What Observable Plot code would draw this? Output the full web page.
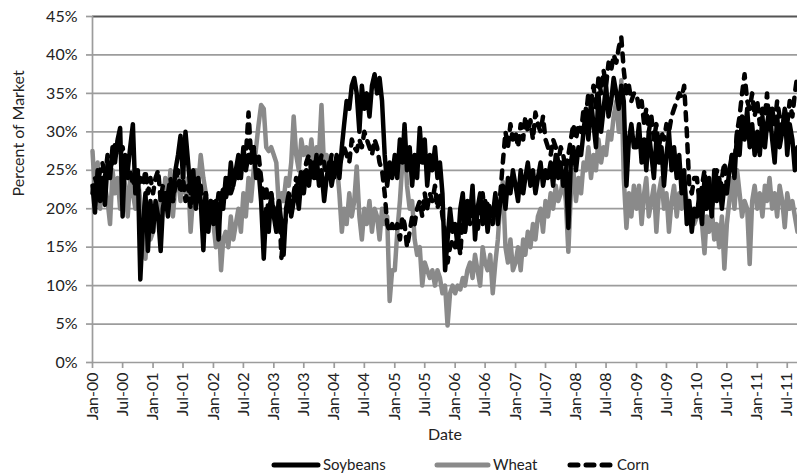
<!DOCTYPE html>
<html><head><meta charset="utf-8">
<script src="https://cdn.jsdelivr.net/npm/d3@7"></script>
<script src="https://cdn.jsdelivr.net/npm/@observablehq/plot@0.6"></script>
<style>
body{margin:0;background:#fff;}
#chart svg{display:block;}
</style></head>
<body><div id="chart"></div>
<script>
// Semi-monthly readings (1st and 16th of each month), Jan 2000 .. Sep 2011, percent of market
const soybeans = [
  23,19.5,25,21,24,20.5,26,24,28,26,29,30.5,19,27,25,28,31,22,25,10.8,18,22,14.5,21, // 2000
  17,21,19,14.5,20,22,19,23,21,25,27,29.5,24,30,26,22,25,20,24,21,14.6,22,17,21,      // 2001
  18,21,16,22,20,24,22,26,23,25,27,24,28,25,27,26,28,24,25,21,13.5,20,17,22,          // 2002
  19,17,21,18,14,20,22,19,21,23,20,24,22,25,23,26,24,27,23,25,21,24,26,23,            // 2003
  25,27,24,28,31,34,33,36,37,35,30,36,33,35,32,36,37.5,35,37,34,27,23,26,24,          // 2004
  27,24,29,26,31,25,28,23,27,24,30.5,26,29,23,27,25,28,24,26,22,12,16,20,17,          // 2005
  18,15,20,22,17,21,19,23,16,20,22,18,21,17,20,19,22,18,21,23,20,24,22,25,            // 2006
  23,21,25,22,24,26,23,25,22,24,26,23,25,24,26,23,27,24,26,23,25,17.5,26,28,          // 2007
  25,28,27,30,33,29,34,31,28,35,30,33,36,32,34,37,35,33,36,34,23,29,31,28,            // 2008
  28,31,26,29,25,30,27,24,29,26,28,23,27,30,25,28,24,27,22,25,18,21,17,20,            // 2009
  19,22,18,24,20,23,19,25,21,24,20,23,22,25,27,24,30,27,32,29,33,28,31,27,            // 2010
  30,27,32,28,31,33,29,26,32,28,30,33,27,31,29,25,28                                  // 2011
];
const wheat = [
  27.5,22,26,20,24,23,21,18,25,22,24,20,25,23,19,24,22,20,24,21,17,13.5,19,16,        // 2000
  17,20,19,22,20,24,21,25,19,23,24,21,25,22,24,17,22,25,23,27,24,22,19,21,            // 2001
  18,15,19,12,16,17,15,19,16,18,20,17,22,19,24,21,25,28,31,33.5,33,28,27.5,28,        // 2002
  27,26,20,22,21,24,23,26,32,27,25,29,27,28,26,29,25,28,27,33.5,25,27,24,26,          // 2003
  25,26,22,17,20,18,22,19,21,25.5,19,16,20,18,21,17,20,19,16,20,18,19,8,12,           // 2004
  12,17,21,26,29,23,20,21,16,14,15,10,13,12,11,12,10,12,11,9,10,4.8,9,10,             // 2005
  9,10,9.5,11,10,12,13,11,14,12,10,15,13,12,14,9,13,16,21,23.5,15,13,16,12,           // 2006
  13,15,12,16,14,17,15,18,16,19,20,17,21,19,22,20,23,21,22,24,21,14.4,22,25,          // 2007
  21,24,22,26,25,28,24,27,25,29,26,28,27,30,29,32,34,30,36.7,24,17.5,22,19,23,        // 2008
  20,23,18,22,24,19,21,23,17,22,24,20,22,17,21,23,19,22,20,23,21,19,20,18,            // 2009
  19,21,18,14.2,19,17,20,16,18,15,19,12.2,18,21,24,20,25,22,19,21,20,12.8,21,23,      // 2010
  20,22,19,23,21,24,20,22,19,23,21,17.6,22,20,21,19,17                                // 2011
];
const corn = [
  22,24,23,25,26,24,27,25.5,26,28.5,29,27,28,26,24,25,23,24,22,24,23,25,22,24,        // 2000
  22,24,25,21,23,20,22,24,21,23,25,22,24,21,23,20,22,24,21,23,19,22,18,21,            // 2001
  21,19,22,20,23,21,24,22,23,25,24,26,25,27,32.5,27,28,26,27,24,21,23,19,22,          // 2002
  20,18,21,13.6,17,19,21,20,22,24,23,25,24,26,27,25,26,24,25,27,26,24,25,27,          // 2003
  24,26,25,27,28,27,26,29,28,27.5,29,28,30,29,28,27,29,28,26,25,22,18,17,18,          // 2004
  17,18,16,19,18,15,17,19,18,20,21,19,22,20,22,21,23,20,22,19,17,13,15,16,            // 2005
  15,17,14,19,17,20,18,21,19,17,20,22,19,21,20,18,21,20,22,26,30,28,31,29,            // 2006
  30,28,31,29,32,30,31.5,29,32.5,31,30,32,29,28,27,29,28,26,28,27,25,27,29,31,        // 2007
  29,31,30,33,32,35,34,36,33,37,35,38,36,39,38,40,39,41,42.3,38,35,36,34,35,          // 2008
  35,33,34,31,33,30,32,29,31,28,30,29,31,30,32,33,34,35,34.5,36,30,23,22,24,          // 2009
  24,21,23,25,22,24,20,23,25,22,24,26,23,25,27,26,30,32,35,37.5,34,33,35,32,          // 2010
  34,31,33,32,35,30,33,31,34,32,30,33,31,34,32,35,37.5                                // 2011
];
const seriesNames = ["Soybeans", "Wheat", "Corn"];
const yTicks = [0, 5, 10, 15, 20, 25, 30, 35, 40, 45];
const yLabel = "Percent of Market";
const xLabel = "Date";

const FONT = "Lato, 'Open Sans', sans-serif";
const dateAt = i => new Date(Date.UTC(2000 + Math.floor(i / 24), Math.floor((i % 24) / 2), (i % 2) ? 16 : 1));
const toRows = (arr, name) => arr.map((v, i) => ({date: dateAt(i), value: v, series: name}));
const rows = {
  Soybeans: toRows(soybeans, "Soybeans"),
  Wheat: toRows(wheat, "Wheat"),
  Corn: toRows(corn, "Corn")
};
const x0 = new Date(Date.UTC(2000, 0, 1));
const x1 = new Date(Date.UTC(2011, 8, 1));
const xTicks = d3.utcMonth.every(6).range(x0, new Date(Date.UTC(2011, 7, 1)));

const chart = Plot.plot({
  width: 797,
  height: 448,
  marginLeft: 92,
  marginRight: 0,
  marginTop: 16,
  marginBottom: 86,
  style: {fontFamily: FONT, fontSize: "16px", color: "#222", background: "white", overflow: "visible"},
  x: {type: "utc", domain: [x0, x1]},
  y: {domain: [0, 45]},
  marks: [
    Plot.ruleY(yTicks.filter(d => d > 0 && d < 45), {stroke: "#9c9c9c", strokeWidth: 1.7}),
    Plot.ruleY([45], {stroke: "#555", strokeWidth: 2}),
    Plot.ruleY([0], {stroke: "#9c9c9c", strokeWidth: 1.7}),
    Plot.ruleX([x0], {stroke: "#9c9c9c", strokeWidth: 1.7}),
    Plot.axisY({ticks: yTicks, tickFormat: d => `${d}%`, tickSize: 6, tickPadding: 9, stroke: "#9c9c9c", strokeWidth: 1.7, fill: "#222", label: null, fontSize: 16}),
    Plot.axisX({ticks: xTicks, tickFormat: d3.utcFormat("%b-%y"), tickRotate: -90, tickSize: 6, tickPadding: 4, stroke: "#9c9c9c", strokeWidth: 1.7, fill: "#222", label: null, fontSize: 16}),
    Plot.text([xLabel], {frameAnchor: "bottom", dy: 77, fontSize: 16, fill: "#222"}),
    Plot.text([yLabel], {frameAnchor: "left", dx: -74, dy: 7, rotate: -90, fontSize: 16, fill: "#222"}),
    Plot.line(rows.Wheat, {x: "date", y: "value", stroke: "#8a8a8a", strokeWidth: 4.5, strokeLinejoin: "round", strokeLinecap: "round"}),
    Plot.line(rows.Soybeans, {x: "date", y: "value", stroke: "#000", strokeWidth: 4.5, strokeLinejoin: "round", strokeLinecap: "round"}),
    Plot.line(rows.Corn, {x: "date", y: "value", stroke: "#000", strokeWidth: 4.5, strokeLinejoin: "round", strokeLinecap: "round", strokeDasharray: "8,8"})
  ]
});
document.getElementById("chart").appendChild(chart);

// Legend below the chart
const legendItems = [
  {name: seriesNames[0], color: "#000", dash: null, x1: 274, x2: 318, tx: 323},
  {name: seriesNames[1], color: "#8a8a8a", dash: null, x1: 437, x2: 488, tx: 493},
  {name: seriesNames[2], color: "#000", dash: "8,8", x1: 570, x2: 610, tx: 617}
];
const leg = d3.create("svg").attr("width", 797).attr("height", 27)
  .style("display", "block").style("font-family", FONT).style("font-size", "15px");
for (const it of legendItems) {
  leg.append("line").attr("x1", it.x1).attr("x2", it.x2).attr("y1", 17).attr("y2", 17)
    .attr("stroke", it.color).attr("stroke-width", 5).attr("stroke-linecap", "round")
    .attr("stroke-dasharray", it.dash);
  leg.append("text").attr("x", it.tx).attr("y", 17).attr("dy", "0.35em").attr("fill", "#222").text(it.name);
}
document.getElementById("chart").appendChild(leg.node());
</script>
</body></html>
